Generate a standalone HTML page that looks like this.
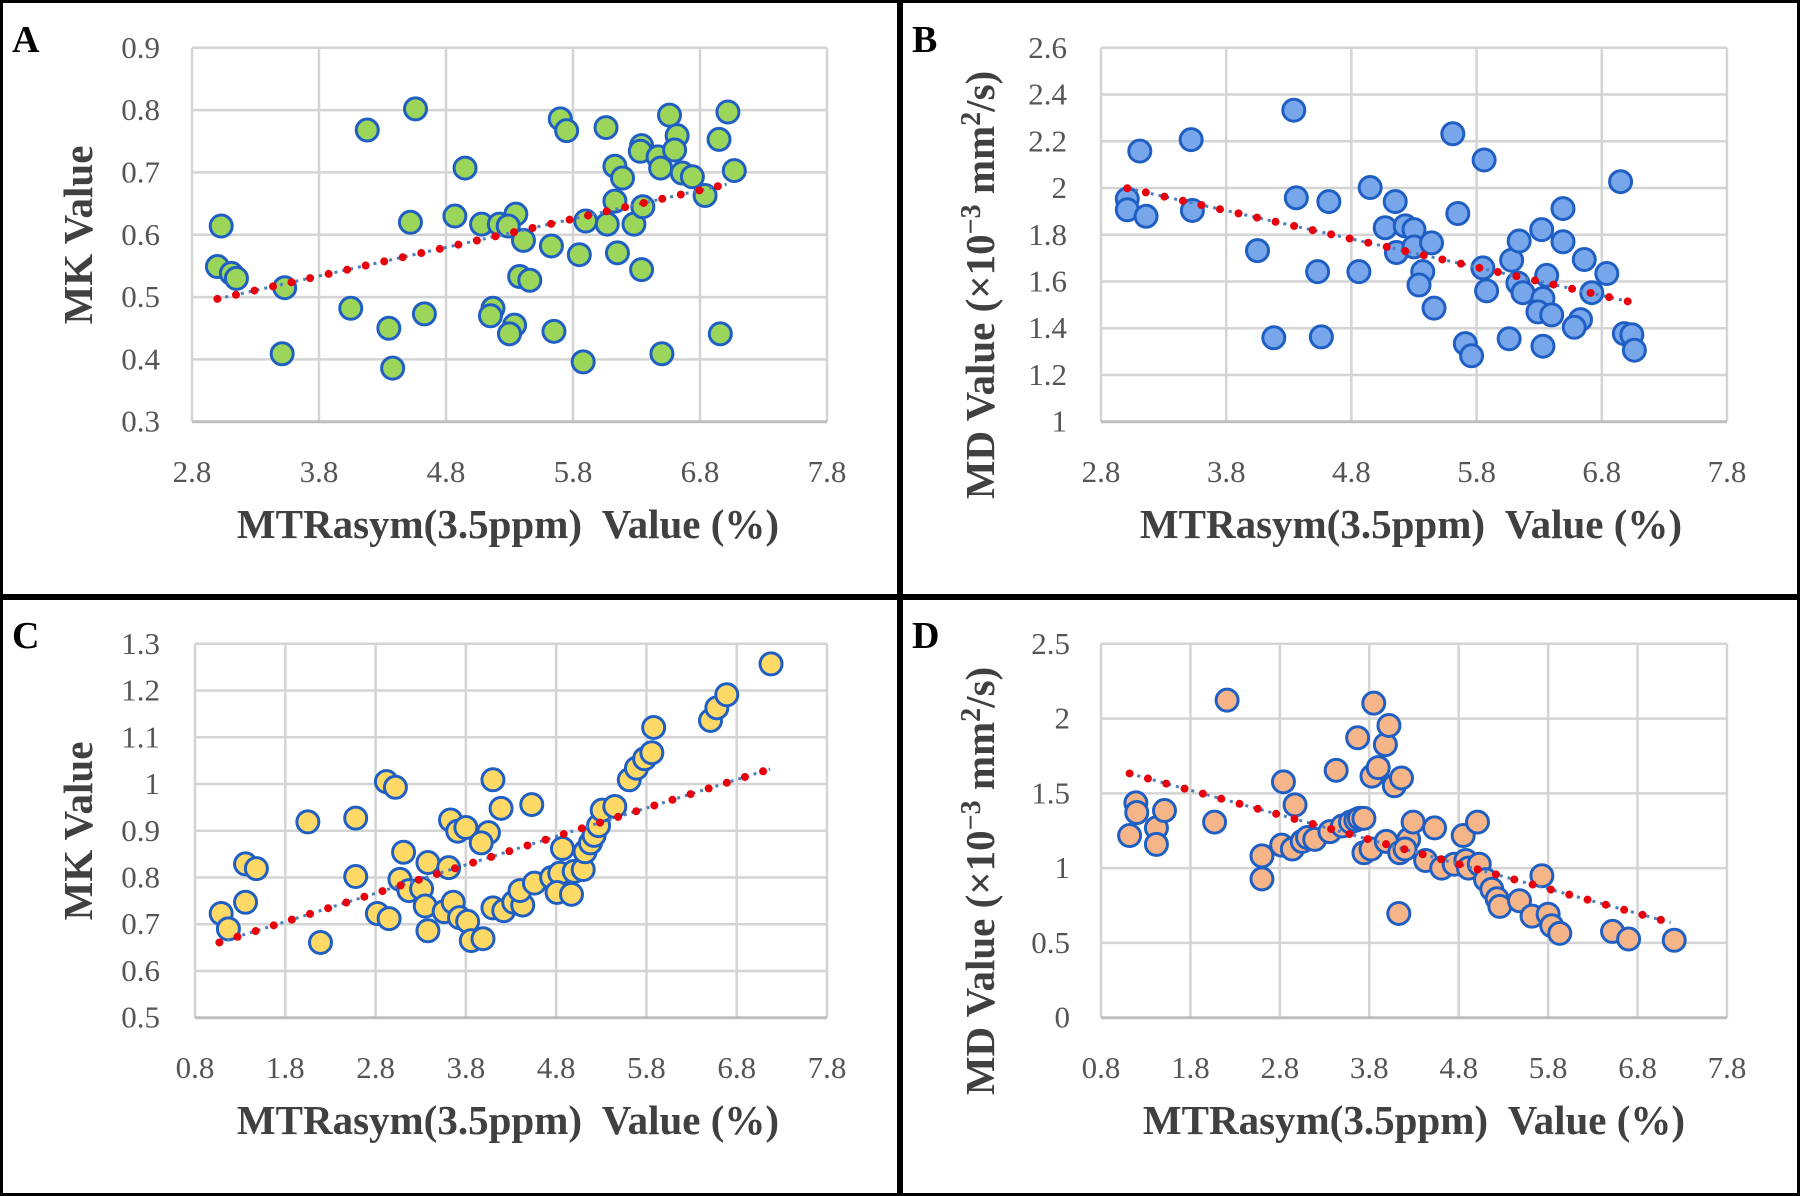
<!DOCTYPE html>
<html><head><meta charset="utf-8"><style>
html,body{margin:0;padding:0;background:#fff}
svg{display:block}
.tick{font-family:"Liberation Serif",serif;font-size:31px;fill:#555}
.ttl{font-family:"Liberation Serif",serif;font-size:41px;font-weight:bold;fill:#404040}
.lbl{font-family:"Liberation Serif",serif;font-size:38px;font-weight:bold;fill:#000}
</style></head><body>
<svg id="fig" width="1800" height="1196" viewBox="0 0 1800 1196" xmlns="http://www.w3.org/2000/svg">
<rect x="0" y="0" width="1800" height="1196" fill="#fff"/>
<g id="panels"></g>
<g fill="none" stroke="#000" stroke-width="3">
<rect x="1.5" y="1.5" width="897" height="594"/>
<rect x="901.5" y="1.5" width="897" height="594"/>
<rect x="1.5" y="598.5" width="897" height="596"/>
<rect x="901.5" y="598.5" width="897" height="596"/>
</g>
</svg>
<script>
// ---- Panel A data ----
const aX=[3.03,3.00,3.11,3.15,3.53,3.51,4.18,4.56,4.52,4.05,4.35,4.38,4.63,4.95,4.87,5.08,5.22,5.35,5.29,5.41,5.38,5.46,5.17,5.15,5.34,5.30,5.70,5.75,5.63,5.85,5.90,5.65,5.88,6.06,6.13,6.19,6.13,6.07,6.15,6.28,6.35,6.34,6.33,6.47,6.49,6.34,6.56,6.62,6.60,6.66,6.74,6.84,6.50,7.02,6.95,7.07,6.96];
const aY=[0.614,0.549,0.538,0.530,0.515,0.409,0.768,0.802,0.620,0.482,0.450,0.386,0.473,0.707,0.630,0.617,0.617,0.633,0.614,0.591,0.533,0.527,0.482,0.470,0.455,0.441,0.786,0.767,0.582,0.568,0.622,0.445,0.396,0.772,0.710,0.691,0.654,0.617,0.571,0.617,0.645,0.743,0.734,0.725,0.707,0.544,0.792,0.759,0.736,0.699,0.693,0.663,0.409,0.797,0.753,0.703,0.441];
const aTrendX=[3.0,7.01];
const aTrendY=[0.497,0.681];
const aYTicks=["0.9","0.8","0.7","0.6","0.5","0.4","0.3"];
const aXTicks=["2.8","3.8","4.8","5.8","6.8","7.8"];
// ---- Panel B data ----
const bX=[3.01,3.01,3.11,3.16,3.52,3.53,4.05,4.18,4.34,4.36,4.53,4.56,4.62,4.86,4.95,5.07,5.15,5.23,5.30,5.16,5.30,5.44,5.37,5.34,5.46,5.61,5.65,5.71,5.76,5.86,5.85,5.88,6.06,6.08,6.14,6.13,6.17,6.32,6.36,6.33,6.29,6.40,6.33,6.49,6.49,6.63,6.58,6.66,6.72,6.84,6.95,6.98,7.04,7.06];
const bY=[1.953,1.907,2.158,1.879,2.207,1.904,1.732,1.359,2.333,1.958,1.642,1.363,1.942,1.642,2.002,1.830,1.942,1.838,1.822,1.724,1.748,1.765,1.642,1.585,1.486,2.232,1.891,1.334,1.282,2.120,1.658,1.560,1.355,1.691,1.773,1.593,1.552,1.822,1.626,1.527,1.470,1.457,1.323,1.912,1.770,1.437,1.404,1.694,1.552,1.634,2.027,1.377,1.372,1.306];
const bTrendX=[3.01,7.04];
const bTrendY=[1.999,1.511];
const bYTicks=["2.6","2.4","2.2","2","1.8","1.6","1.4","1.2","1"];
const bXTicks=["2.8","3.8","4.8","5.8","6.8","7.8"];
// ---- Panel C data ----
const cX=[1.09,1.17,1.36,1.48,1.36,2.05,2.19,2.58,2.58,2.82,2.95,2.92,3.02,3.11,3.07,3.17,3.31,3.38,3.35,3.38,3.56,3.63,3.71,3.80,3.61,3.66,3.73,3.82,3.86,3.99,4.05,3.97,4.10,4.19,4.10,4.22,4.33,4.43,4.40,4.56,4.53,4.75,4.84,4.81,4.97,4.87,5.00,5.10,5.12,5.18,5.22,5.27,5.31,5.45,5.61,5.69,5.78,5.86,5.88,6.51,6.58,6.69,7.18];
const cY=[0.723,0.690,0.829,0.819,0.747,0.919,0.661,0.927,0.802,0.723,0.712,1.005,0.993,0.854,0.796,0.772,0.776,0.832,0.739,0.686,0.727,0.923,0.899,0.907,0.821,0.747,0.714,0.706,0.665,0.669,0.896,0.874,1.009,0.948,0.735,0.729,0.747,0.741,0.772,0.788,0.956,0.800,0.809,0.768,0.764,0.862,0.813,0.817,0.855,0.874,0.890,0.911,0.944,0.952,1.009,1.034,1.054,1.067,1.121,1.136,1.163,1.191,1.257];
const cTrendX=[1.07,7.17];
const cTrendY=[0.661,1.032];
const cYTicks=["1.3","1.2","1.1","1","0.9","0.8","0.7","0.6","0.5"];
const cXTicks=["0.8","1.8","2.8","3.8","4.8","5.8","6.8","7.8"];
// ---- Panel D data ----
const dX=[1.12,1.19,1.20,1.42,1.42,1.51,2.07,2.21,2.60,2.60,2.84,2.97,2.82,2.94,3.05,3.11,3.19,3.36,3.43,3.50,3.59,3.65,3.69,3.74,3.67,3.74,3.82,3.85,3.83,3.90,3.98,4.02,3.99,4.08,4.16,4.13,4.14,4.24,4.29,4.20,4.43,4.53,4.61,4.75,4.85,4.88,4.91,5.01,5.03,5.10,5.17,5.23,5.26,5.48,5.62,5.73,5.80,5.84,5.93,6.52,6.70,7.21];
const dY=[1.218,1.436,1.372,1.269,1.159,1.385,1.308,2.123,1.082,0.928,1.577,1.423,1.154,1.128,1.179,1.205,1.192,1.244,1.654,1.282,1.308,1.321,1.333,1.333,1.872,1.103,1.128,2.103,1.615,1.672,1.826,1.954,1.179,1.551,1.603,0.697,1.103,1.192,1.308,1.128,1.051,1.269,1.000,1.026,1.218,1.051,1.000,1.308,1.026,0.923,0.859,0.795,0.744,0.782,0.679,0.949,0.692,0.615,0.564,0.577,0.526,0.518];
const dTrendX=[1.12,7.17];
const dTrendY=[1.633,0.636];
const dYTicks=["2.5","2","1.5","1","0.5","0"];
const dXTicks=["0.8","1.8","2.8","3.8","4.8","5.8","6.8","7.8"];

const NS="http://www.w3.org/2000/svg";
function mk(tag,attrs,parent){const e=document.createElementNS(NS,tag);for(const k in attrs)e.setAttribute(k,attrs[k]);parent.appendChild(e);return e;}

function panel(o){
  const root=document.getElementById('panels');
  const g=mk('g',{transform:`translate(${o.ox},${o.oy})`},root);
  
  
  const L=o.left,R=o.right,T=47.8,B=421.7;
  const xs=v=>L+(v-o.xmin)/(o.xmax-o.xmin)*(R-L);
  const ys=v=>B-(v-o.ymin)/(o.ymax-o.ymin)*(B-T);
  const grid=mk('g',{},g);
  
  
  o.yt.forEach(t=>{const y=ys(parseFloat(t));
    mk('line',{x1:L,x2:R,y1:y,y2:y,stroke:'#d4d4d4','stroke-width':2.5},grid);
    const tx=mk('text',{x:o.ylabX,y:y+10,'text-anchor':'end',class:'tick'},g);tx.textContent=t;
    
    
  });
  o.xt.forEach(t=>{const x=xs(parseFloat(t));
    mk('line',{x1:x,x2:x,y1:T,y2:B,stroke:'#d4d4d4','stroke-width':2.5},grid);
    const tx=mk('text',{x:x,y:482,'text-anchor':'middle',class:'tick'},g);tx.textContent=t;
    
    
  });
  mk('line',{x1:L,x2:R,y1:B,y2:B,stroke:'#bfbfbf','stroke-width':3},g);
  const pts=mk('g',{},g);
  
  
  o.x.forEach((v,i)=>{
    const c=mk('circle',{cx:xs(v),cy:ys(o.y[i]),r:11,fill:o.fill,stroke:'#1f5fc4','stroke-width':3},pts);
    
    
  });
  const tl=mk('line',{x1:xs(o.tx[0]),y1:ys(o.ty[0]),x2:xs(o.tx[1]),y2:ys(o.ty[1]),stroke:'#4a7fc0','stroke-width':3,'stroke-dasharray':'3 5'},g);
  
  
  const tr=mk('line',{x1:xs(o.tx[0]),y1:ys(o.ty[0]),x2:xs(o.tx[1]),y2:ys(o.ty[1]),stroke:'#e8000b','stroke-width':8,'stroke-linecap':'round','stroke-dasharray':'0 19'},g);
  
  
  const lb=mk('text',{x:12,y:52,class:'lbl'},g);lb.textContent=o.key.toUpperCase();
  
  
  const xt=mk('text',{x:o.xtc,y:538,'text-anchor':'middle',class:'ttl'},g);xt.textContent='MTRasym(3.5ppm)\u00a0 Value (%)';
  
  
  const yt=mk('text',{x:0,y:0,'text-anchor':'middle',class:'ttl',transform:`translate(${o.ytx},${o.yty}) rotate(-90)`},g);
  
  
  if(o.md){
    yt.innerHTML='MD Value (×10<tspan dy="-14" font-size="28">−3</tspan><tspan dy="14"> mm</tspan><tspan dy="-14" font-size="28">2</tspan><tspan dy="14">/s)</tspan>';
  } else yt.textContent='MK Value';
}
panel({key:'a',ox:0,oy:0,left:192,right:827,xmin:2.8,xmax:7.8,ymin:0.3,ymax:0.9,x:aX,y:aY,tx:aTrendX,ty:aTrendY,yt:aYTicks,xt:aXTicks,fill:'#9bd55a',ylabX:160,xtc:508,ytx:92,yty:235,md:false});
panel({key:'b',ox:900,oy:0,left:201,right:827,xmin:2.8,xmax:7.8,ymin:1.0,ymax:2.6,x:bX,y:bY,tx:bTrendX,ty:bTrendY,yt:bYTicks,xt:bXTicks,fill:'#78a6ea',ylabX:167,xtc:511,ytx:94,yty:285,md:true});
panel({key:'c',ox:0,oy:596,left:195,right:827,xmin:0.8,xmax:7.8,ymin:0.5,ymax:1.3,x:cX,y:cY,tx:cTrendX,ty:cTrendY,yt:cYTicks,xt:cXTicks,fill:'#ffd966',ylabX:160,xtc:508,ytx:92,yty:235,md:false});
panel({key:'d',ox:900,oy:596,left:201,right:827,xmin:0.8,xmax:7.8,ymin:0,ymax:2.5,x:dX,y:dY,tx:dTrendX,ty:dTrendY,yt:dYTicks,xt:dXTicks,fill:'#f6b489',ylabX:170,xtc:514,ytx:94,yty:285,md:true});
</script>
</body></html>
